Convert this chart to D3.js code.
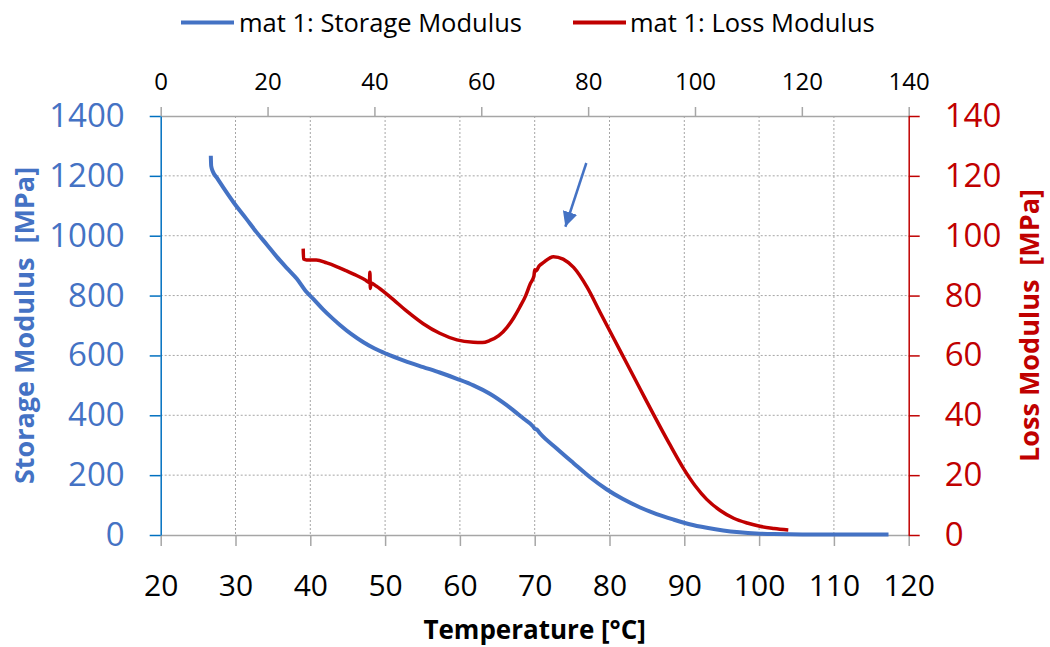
<!DOCTYPE html>
<html>
<head>
<meta charset="utf-8">
<script src="https://cdn.jsdelivr.net/npm/d3@7"></script>
<style>
    body { margin: 0; background: #fff; }
    #chart { width: 1050px; height: 647px; }
    text { font-family: "Open Sans", sans-serif; }
</style>
</head>
<body>
<div id="chart"></div>
<script>
// --- data ---
const storageTemp = [26.7, 26.75, 27.0, 27.5, 28.4, 29.9, 31.4, 32.8, 34.2, 35.5, 36.9, 38.2, 39.3, 39.5, 40.4, 41.7, 43.0, 44.0, 45.5, 47.1, 48.6, 50.2, 52.6, 55.1, 57.3, 59.6, 61.8, 64.0, 66.3, 68.5, 69.8, 70.0, 70.3, 70.7, 72.9, 75.2, 77.4, 79.6, 81.8, 84.1, 86.3, 88.5, 90.7, 93.0, 95.2, 97.4, 99.6, 101.9, 104.1, 106.4, 110.0, 114.0, 117.3];
const storageVal = [1267, 1233, 1213, 1194, 1160, 1106, 1058, 1012, 970, 930, 891, 856, 818, 812, 789, 754, 723, 701, 671, 644, 623, 605, 582, 561, 543, 522, 500, 472, 433, 389, 362, 355, 352, 340, 290, 240, 193, 153, 120, 92, 70, 52, 36, 24, 15, 9, 5, 3, 2.5, 2, 2, 1.5, 1.5];

const lossTemp = [39.05, 39.1, 39.5, 40.8, 42.2, 43.5, 44.8, 46.2, 47.3, 47.9, 47.97, 48.03, 48.1, 48.8, 50.7, 52.9, 55.1, 57.3, 59.6, 61.8, 63.0, 64.0, 65.2, 66.3, 67.2, 68.0, 68.8, 69.4, 69.9, 70.0, 70.15, 70.6, 71.2, 72.5, 73.8, 75.2, 77.0, 78.7, 80.5, 82.3, 84.1, 85.9, 88.0, 89.9, 91.5, 93.0, 94.8, 96.6, 98.4, 100.1, 102.0, 103.9];
const lossVal = [95.7, 92.2, 91.9, 91.9, 90.9, 89.7, 88.3, 86.7, 85.3, 84.4, 87.8, 82.4, 84.2, 83.2, 79.5, 74.8, 70.6, 67.4, 65.2, 64.4, 64.3, 65.0, 66.6, 69.4, 72.6, 76.1, 80.0, 83.9, 86.6, 88.6, 88.2, 89.9, 91.1, 93.0, 92.2, 89.4, 82.8, 74.6, 66.0, 57.4, 48.8, 40.2, 30.5, 22.2, 16.3, 11.9, 8.2, 5.6, 4.0, 2.9, 2.2, 1.7];

const bottomTicks = [20, 30, 40, 50, 60, 70, 80, 90, 100, 110, 120];
const topTicks = [0, 20, 40, 60, 80, 100, 120, 140];
const storageTicks = [0, 200, 400, 600, 800, 1000, 1200, 1400];
const lossTicks = [0, 20, 40, 60, 80, 100, 120, 140];

const seriesNames = ["mat 1: Storage Modulus", "mat 1: Loss Modulus"];
const seriesColors = ["#4472C4", "#C00000"];

// annotation arrow (temperature, storage modulus)
const arrowTemp = [76.9, 74.1];
const arrowStorage = [1243, 1030];

const width = 1050, height = 647;
const margin = { top: 116, right: 141.3, bottom: 112, left: 160.7 };
const innerWidth = width - margin.left - margin.right;
const innerHeight = height - margin.top - margin.bottom;

const svg = d3.select("#chart").append("svg")
    .attr("width", width)
    .attr("height", height);

const chart = svg.append("g")
    .attr("transform", `translate(${margin.left}, ${margin.top})`);

const x = d3.scaleLinear().domain([20, 120]).range([0, innerWidth]);
const xTop = d3.scaleLinear().domain([0, 140]).range([0, innerWidth]);
const y = d3.scaleLinear().domain([0, 1400]).range([innerHeight, 0]);
const yLoss = d3.scaleLinear().domain([0, 140]).range([innerHeight, 0]);

// gridlines
const grid = chart.append("g")
    .attr("stroke", "#A6A6A6")
    .attr("stroke-width", 1)
    .attr("stroke-dasharray", "2,2");

grid.selectAll(".vgrid")
    .data(bottomTicks.slice(1, -1))
    .enter().append("line")
    .attr("x1", d => x(d)).attr("x2", d => x(d))
    .attr("y1", 0).attr("y2", innerHeight);

grid.selectAll(".hgrid")
    .data(storageTicks.slice(1, -1))
    .enter().append("line")
    .attr("x1", 0).attr("x2", innerWidth)
    .attr("y1", d => y(d)).attr("y2", d => y(d));

// axes
function styleAxis(g, lineColor, textColor, fontSize) {
    g.attr("font-size", fontSize).attr("font-family", "'Open Sans', sans-serif");
    g.select(".domain").attr("stroke", lineColor).attr("stroke-width", 1.5);
    g.selectAll(".tick line").attr("stroke", lineColor).attr("stroke-width", 1.5);
    g.selectAll(".tick text").attr("fill", textColor);
}

const fmt = d3.format("d");

const xAxisG = chart.append("g")
    .attr("transform", `translate(0, ${innerHeight})`)
    .call(d3.axisBottom(x).tickValues(bottomTicks).tickFormat(fmt).tickSize(11).tickSizeOuter(0).tickPadding(29));
styleAxis(xAxisG, "#A6A6A6", "#000", 30);

const xTopG = chart.append("g")
    .call(d3.axisTop(xTop).tickValues(topTicks).tickFormat(fmt).tickSize(9).tickSizeOuter(0).tickPadding(17));
styleAxis(xTopG, "#A6A6A6", "#000", 24);

const yAxisG = chart.append("g")
    .call(d3.axisLeft(y).tickValues(storageTicks).tickFormat(fmt).tickSize(11).tickSizeOuter(0).tickPadding(25));
styleAxis(yAxisG, "#0070C0", "#4472C4", 33);

const yLossG = chart.append("g")
    .attr("transform", `translate(${innerWidth}, 0)`)
    .call(d3.axisRight(yLoss).tickValues(lossTicks).tickFormat(fmt).tickSize(11).tickSizeOuter(0).tickPadding(25));
styleAxis(yLossG, "#C00000", "#C00000", 33);

// series
const storageData = storageTemp.map((t, i) => ({ t, v: storageVal[i] }));
const lossData = lossTemp.map((t, i) => ({ t, v: lossVal[i] }));

const storageLine = d3.line().x(d => x(d.t)).y(d => y(d.v)).curve(d3.curveMonotoneX);
const lossLine = d3.line().x(d => x(d.t)).y(d => yLoss(d.v)).curve(d3.curveMonotoneX);

chart.append("path")
    .datum(storageData)
    .attr("fill", "none")
    .attr("stroke", seriesColors[0])
    .attr("stroke-width", 4)
    .attr("stroke-linejoin", "round")
    .attr("d", storageLine);

chart.append("path")
    .datum(lossData)
    .attr("fill", "none")
    .attr("stroke", seriesColors[1])
    .attr("stroke-width", 3.5)
    .attr("stroke-linejoin", "round")
    .attr("d", lossLine);

// arrow annotation
svg.append("defs").append("marker")
    .attr("id", "arrowhead")
    .attr("markerUnits", "userSpaceOnUse")
    .attr("markerWidth", 16).attr("markerHeight", 16)
    .attr("refX", 15).attr("refY", 7.5)
    .attr("orient", "auto")
    .append("path")
    .attr("d", "M0,0 L15,7.5 L0,15 Z")
    .attr("fill", seriesColors[0]);

chart.append("line")
    .attr("x1", x(arrowTemp[0])).attr("y1", y(arrowStorage[0]))
    .attr("x2", x(arrowTemp[1])).attr("y2", y(arrowStorage[1]))
    .attr("stroke", seriesColors[0])
    .attr("stroke-width", 2.5)
    .attr("marker-end", "url(#arrowhead)");

// axis titles
svg.append("text")
    .attr("x", margin.left + innerWidth / 2)
    .attr("y", 639)
    .attr("text-anchor", "middle")
    .attr("font-size", "26px")
    .attr("font-weight", "bold")
    .attr("fill", "#000")
    .text("Temperature [°C]");

svg.append("text")
    .attr("transform", `translate(34, ${margin.top + innerHeight / 2}) rotate(-90)`)
    .attr("text-anchor", "middle")
    .attr("font-size", "27px")
    .attr("font-weight", "bold")
    .attr("fill", "#4472C4")
    .style("white-space", "pre")
    .text("Storage Modulus  [MPa]");

svg.append("text")
    .attr("transform", `translate(1039, ${margin.top + innerHeight / 2}) rotate(-90)`)
    .attr("text-anchor", "middle")
    .attr("font-size", "27px")
    .attr("font-weight", "bold")
    .attr("fill", "#C00000")
    .style("white-space", "pre")
    .text("Loss Modulus  [MPa]");

// legend
const legendPos = [{ x: 181, tx: 239 }, { x: 573, tx: 630 }];
const legend = svg.append("g");

legend.selectAll("g")
    .data(seriesNames)
    .enter().append("g")
    .each(function (d, i) {
        const g = d3.select(this);
        g.append("line")
            .attr("x1", legendPos[i].x).attr("x2", legendPos[i].x + 53)
            .attr("y1", 22.5).attr("y2", 22.5)
            .attr("stroke", seriesColors[i])
            .attr("stroke-width", 4);
        g.append("text")
            .attr("x", legendPos[i].tx)
            .attr("y", 31.5)
            .attr("font-size", "25.5px")
            .attr("fill", "#000")
            .text(d);
    });
</script>
</body>
</html>
